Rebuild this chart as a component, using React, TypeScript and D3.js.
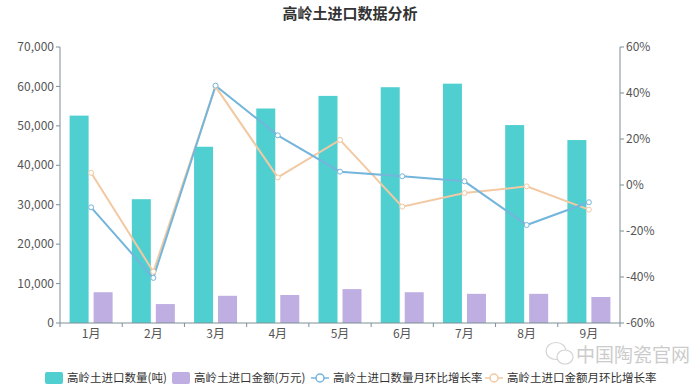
import React from 'react';
import * as d3 from 'd3';

const months = ['1月', '2月', '3月', '4月', '5月', '6月', '7月', '8月', '9月'];
const quantity = [52600, 31400, 44700, 54400, 57600, 59800, 60700, 50200, 46400];
const amount = [7800, 4800, 6900, 7100, 8600, 7800, 7400, 7400, 6600];
const quantityRate = [-9.7, -40.4, 43.2, 21.6, 5.8, 3.8, 1.6, -17.4, -7.5];
const amountRate = [5.3, -37.7, 42.8, 3.3, 19.6, -9.4, -3.5, -0.6, -10.7];
const leftTicks = [0, 10000, 20000, 30000, 40000, 50000, 60000, 70000];
const rightTicks = [-60, -40, -20, 0, 20, 40, 60];

const W = 700;
const H = 387;
const left = 60;
const right = 620;
const top = 47;
const bottom = 323;

const teal = '#4fcfd0';
const purple = '#bfaee2';
const blue = '#74b5dc';
const orange = '#f2c9a2';
const axisColor = '#7d9097';
const font = '"Noto Sans CJK SC", "Noto Sans", sans-serif';

export default function App() {
  const x = d3.scaleBand<string>().domain(months).range([left, right]);
  const yL = d3.scaleLinear().domain([0, 70000]).range([bottom, top]);
  const yR = d3.scaleLinear().domain([-60, 60]).range([bottom, top]);
  const fmt = d3.format(',');
  const bw = 19;
  const gap = 5;
  const cx = (m: string) => (x(m) as number) + x.bandwidth() / 2;

  const rateLine = d3.line<number>().x((_, i) => cx(months[i])).y((v) => yR(v));

  const legend = [
    { type: 'bar', color: teal, label: '高岭土进口数量(吨)', x: 45 },
    { type: 'bar', color: purple, label: '高岭土进口金额(万元)', x: 172 },
    { type: 'line', color: blue, label: '高岭土进口数量月环比增长率', x: 311 },
    { type: 'line', color: orange, label: '高岭土进口金额月环比增长率', x: 485 },
  ];

  return (
    <svg width={W} height={H} style={{ position: 'absolute', left: 0, top: 0, fontFamily: font }}>
      <rect width={W} height={H} fill="#fff" />
      <text x={350} y={19} textAnchor="middle" fontSize={15} fontWeight="bold" fill="#333">
        高岭土进口数据分析
      </text>

      {/* bars */}
      {months.map((m, i) => (
        <g key={m}>
          <rect x={cx(m) - gap / 2 - bw} y={yL(quantity[i])} width={bw} height={bottom - yL(quantity[i])} fill={teal} />
          <rect x={cx(m) + gap / 2} y={yL(amount[i])} width={bw} height={bottom - yL(amount[i])} fill={purple} />
        </g>
      ))}

      {/* lines */}
      <path d={rateLine(amountRate) || ''} fill="none" stroke={orange} strokeWidth={2} />
      <path d={rateLine(quantityRate) || ''} fill="none" stroke={blue} strokeWidth={2} />
      {amountRate.map((v, i) => (
        <circle key={'a' + i} cx={cx(months[i])} cy={yR(v)} r={2.5} fill="#fff" stroke={orange} strokeWidth={1} />
      ))}
      {quantityRate.map((v, i) => (
        <circle key={'q' + i} cx={cx(months[i])} cy={yR(v)} r={2.5} fill="#fff" stroke={blue} strokeWidth={1} />
      ))}

      {/* left axis */}
      <line x1={left} x2={left} y1={top} y2={bottom} stroke={axisColor} />
      {leftTicks.map((t) => (
        <g key={t}>
          <line x1={left - 4} x2={left} y1={yL(t)} y2={yL(t)} stroke={axisColor} />
          <text x={left - 6} y={yL(t)} dy="0.35em" textAnchor="end" fontSize={12} fill="#555">
            {fmt(t)}
          </text>
        </g>
      ))}

      {/* right axis */}
      <line x1={right} x2={right} y1={top} y2={bottom} stroke={axisColor} />
      {rightTicks.map((t) => (
        <g key={t}>
          <line x1={right} x2={right + 4} y1={yR(t)} y2={yR(t)} stroke={axisColor} />
          <text x={right + 6} y={yR(t)} dy="0.35em" fontSize={12} fill="#555">
            {t + '%'}
          </text>
        </g>
      ))}

      {/* x axis */}
      <line x1={left} x2={right} y1={bottom} y2={bottom} stroke={axisColor} />
      {months.map((m) => (
        <g key={m}>
          <line x1={x(m) as number} x2={x(m) as number} y1={bottom} y2={bottom + 4} stroke={axisColor} />
          <text x={cx(m)} y={bottom + 15} textAnchor="middle" fontSize={12} fill="#555">
            {m}
          </text>
        </g>
      ))}
      <line x1={right} x2={right} y1={bottom} y2={bottom + 4} stroke={axisColor} />

      {/* watermark */}
      <g opacity={0.5}>
        <ellipse cx={556} cy={351} rx={10} ry={8.5} fill="none" stroke="#aaa" strokeWidth={1.2} />
        <ellipse cx={565} cy={357} rx={8} ry={7} fill="#fff" stroke="#aaa" strokeWidth={1.2} />
        <text x={576} y={362} fontSize={19} fill="#999">
          中国陶瓷官网
        </text>
      </g>

      {/* legend */}
      {legend.map((l) => (
        <g key={l.label} transform={`translate(${l.x},378)`}>
          {l.type === 'bar' ? (
            <rect x={0} y={-6} width={18} height={12} rx={2} fill={l.color} />
          ) : (
            <g>
              <line x1={0} x2={18} y1={0} y2={0} stroke={l.color} strokeWidth={1.5} />
              <circle cx={9} cy={0} r={4} fill="#fff" stroke={l.color} strokeWidth={1.5} />
            </g>
          )}
          <text x={22} y={0} dy="0.35em" fontSize={11.5} fill="#333">
            {l.label}
          </text>
        </g>
      ))}
    </svg>
  );
}
